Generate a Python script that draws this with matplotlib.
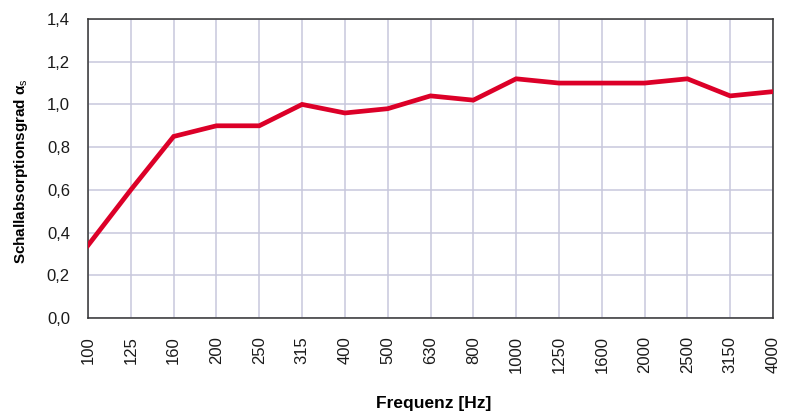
import matplotlib
matplotlib.use("Agg")
import matplotlib.pyplot as plt
from matplotlib.ticker import FuncFormatter

frequencies = ["100", "125", "160", "200", "250", "315", "400", "500", "630", "800",
               "1000", "1250", "1600", "2000", "2500", "3150", "4000"]
absorption = [0.34, 0.60, 0.85, 0.90, 0.90, 1.00, 0.96, 0.98, 1.04, 1.02,
              1.12, 1.10, 1.10, 1.10, 1.12, 1.04, 1.06]
y_ticks = [0.0, 0.2, 0.4, 0.6, 0.8, 1.0, 1.2, 1.4]

plt.rcParams['font.family'] = ['Liberation Sans', 'DejaVu Sans']
plt.rcParams['mathtext.fontset'] = 'custom'
plt.rcParams['mathtext.rm'] = 'Liberation Sans'
plt.rcParams['mathtext.it'] = 'Liberation Sans:italic'
plt.rcParams['mathtext.bf'] = 'Liberation Sans:bold'

fig = plt.figure(figsize=(7.87, 4.12), dpi=100)
ax = fig.add_axes([88 / 787, 94 / 412, 685 / 787, 299 / 412])

x = list(range(len(frequencies)))
ax.plot(x, absorption, color="#dc0028", linewidth=3.4, solid_joinstyle='miter', zorder=3)

ax.set_xlim(0, len(frequencies) - 1)
ax.set_ylim(0, 1.4)
ax.set_xticks(x)
ax.set_xticklabels(frequencies, rotation=90)
ax.set_yticks(y_ticks)
ax.yaxis.set_major_formatter(FuncFormatter(lambda v, p: f"{v:.1f}".replace(".", ",")))
ax.tick_params(axis='x', length=0, labelsize=12, colors="#1a1a1a", pad=13)
ax.tick_params(axis='y', length=0, labelsize=12, colors="#1a1a1a", pad=13)

ax.grid(True, color="#c8c8dc", linewidth=1.1, zorder=0)
for s in ax.spines.values():
    s.set_color("#333333")
    s.set_linewidth(1.1)

ax.set_xlabel("Frequenz [Hz]", fontsize=12.5, fontweight='bold')
ax.xaxis.set_label_coords(0.505, -0.26)
ax.set_ylabel("Schallabsorptionsgrad α$_\\mathrm{s}$", fontsize=11, fontweight='bold')
ax.yaxis.set_label_coords(-0.084, 0.49)

fig.savefig("out.png", dpi=100)
